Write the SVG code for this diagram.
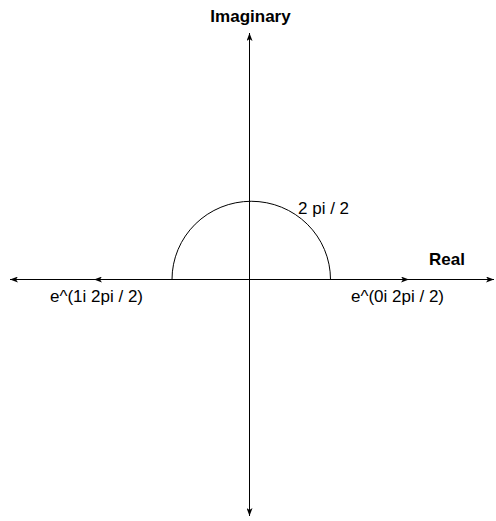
<svg xmlns="http://www.w3.org/2000/svg" width="496" height="521" viewBox="0 0 496 521">
<defs>
<style>
.ln{stroke:#000;stroke-width:1;fill:none}
.lbl{font-family:"Liberation Sans",Arial,sans-serif;font-size:17px;fill:#000}
.b{font-weight:bold}
</style>
<marker id="ah" viewBox="0 0 8 6" refX="8" refY="3" markerWidth="8" markerHeight="6" markerUnits="userSpaceOnUse" orient="auto">
<path d="M0,0 L8,3 L0,6 L2,3 Z" fill="#000"/>
</marker>
</defs>
<rect width="496" height="521" fill="#fff"/>
<g id="connectors">
<line class="ln" x1="249.5" y1="279.5" x2="10" y2="279.5" marker-end="url(#ah)"/>
<line class="ln" x1="249.5" y1="279.5" x2="94" y2="279.5" marker-end="url(#ah)"/>
<line class="ln" x1="249.5" y1="279.5" x2="494" y2="279.5" marker-end="url(#ah)"/>
<line class="ln" x1="249.5" y1="279.5" x2="409" y2="279.5" marker-end="url(#ah)"/>
<line class="ln" x1="249.5" y1="279.5" x2="249.5" y2="33" marker-end="url(#ah)"/>
<line class="ln" x1="249.5" y1="279.5" x2="249.5" y2="516" marker-end="url(#ah)"/>
<path class="ln" d="M172,279.5 A78,77 0 0 1 330.5,279.5"/>
</g>
<g id="imaginary"><text class="lbl b" x="250.5" y="22" text-anchor="middle">Imaginary</text></g>
<g id="real"><text class="lbl b" x="429" y="265">Real</text></g>
<g id="arc-label"><text class="lbl" x="298" y="214">2 pi / 2</text></g>
<g id="pt1"><text class="lbl" x="50" y="302">e^(1i 2pi / 2)</text></g>
<g id="pt0"><text class="lbl" x="351" y="302">e^(0i 2pi / 2)</text></g>
</svg>
